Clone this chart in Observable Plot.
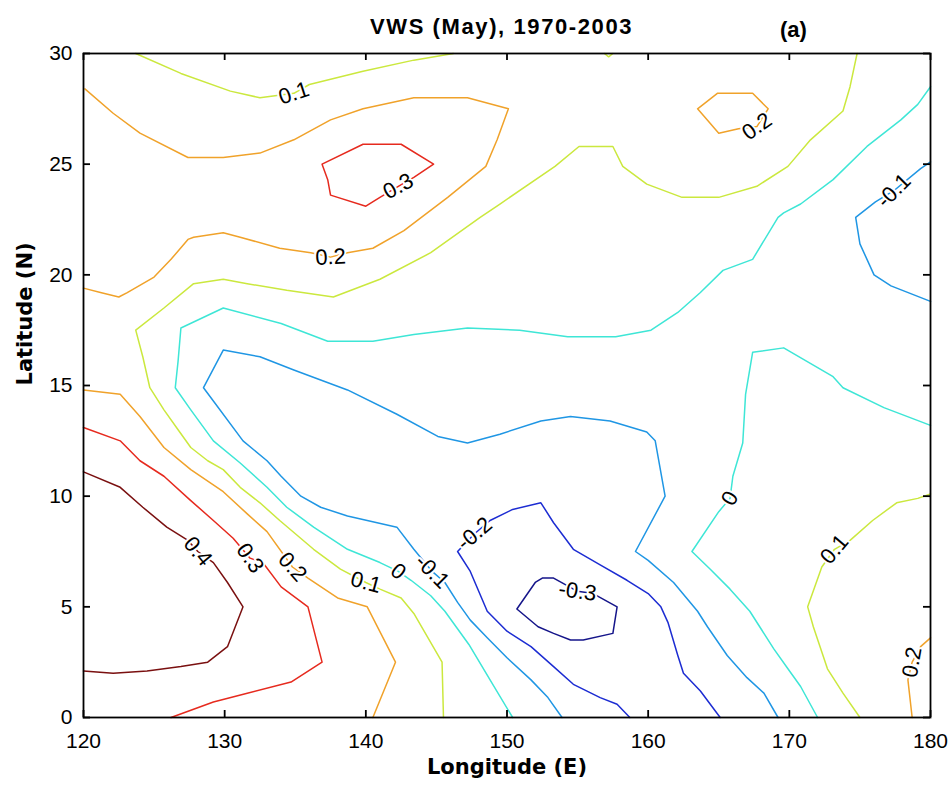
<!DOCTYPE html>
<html>
<head>
<meta charset="utf-8">
<script src="https://cdn.jsdelivr.net/npm/d3@7"></script>
<script src="https://cdn.jsdelivr.net/npm/@observablehq/plot@0.6"></script>
<style>
  body { margin: 0; background: #fff; }
  #fig { position: relative; width: 952px; height: 791px; }
  #fig svg { position: absolute; left: 0; top: 0; }
  .hdr { position: absolute; font-family: "Liberation Sans", Arial, sans-serif; font-weight: bold;
         font-size: 22px; color: #000; white-space: nowrap; z-index: 2; line-height: 1; }
  #title { left: 370px; top: 16px; letter-spacing: 1.6px; }
  #panel { left: 780px; top: 19px; }
</style>
</head>
<body>
<div id="fig">
  <div id="title" class="hdr">VWS (May), 1970-2003</div>
  <div id="panel" class="hdr">(a)</div>
</div>
<script>
// Contour levels of vertical wind shear and their line colours (jet-like)
const levels = [-0.3, -0.2, -0.1, 0, 0.1, 0.2, 0.3, 0.4];
const levelColors = ["#15158a", "#1c2cd2", "#1f96e4", "#3ee6d6", "#cbe83e", "#f0a22a", "#e62a1e", "#7a1010"];

// Axis ticks
const lonTicks = [120, 130, 140, 150, 160, 170, 180];
const latTicks = [0, 5, 10, 15, 20, 25, 30];

// Contour paths as [longitude, latitude] vertices
const cM03 = [[150.7,4.9],[152.0,6.1],[152.5,6.3],[153.3,6.3],[155.0,5.7],[156.1,5.6],[157.8,5.0],[157.5,3.8],[155.4,3.5],[154.5,3.5],[153.3,3.8],[152.2,4.1],[150.7,4.9]];

const cM02 = [[158.7,0],[157.8,0.6],[156.6,0.9],[154.7,1.5],[153.3,2.3],[151.7,3.2],[150.0,3.9],[148.6,4.8],[147.4,6.6],[146.5,7.5],[147.7,8.3],[148.8,8.9],[150.4,9.4],[152.4,9.7],[153.3,8.8],[154.7,7.6],[156.6,6.9],[158.5,6.2],[160.0,5.6],[160.9,5.0],[161.4,4.3],[162.1,2.8],[162.5,2.0],[163.7,1.2],[165.1,0]];

const cM01a = [[153.9,0],[152.9,0.9],[151.7,1.7],[150.0,2.7],[148.6,3.6],[147.4,4.4],[146.5,5.2],[145.6,6.1],[144.7,6.6],[143.4,7.6],[142.2,8.6],[138.7,9.1],[136.8,9.5],[135.4,10.0],[134.0,10.9],[133.0,11.6],[131.3,12.5],[129.2,14.3],[128.5,14.9],[129.9,16.6],[132.5,16.3],[134.9,15.7],[138.7,14.8],[142.2,13.7],[145.1,12.7],[147.2,12.4],[149.5,12.8],[152.4,13.4],[154.5,13.6],[157.3,13.4],[159.9,12.9],[160.5,12.5],[161.2,10.0],[159.1,7.5],[160.0,7.1],[161.8,6.1],[163.5,4.8],[164.2,4.1],[165.6,2.8],[167.0,1.8],[168.2,1.1],[169.2,0]];
const cM01b = [[180,25.1],[179.3,24.8],[177.4,23.8],[176.1,23.3],[174.7,22.6],[175.0,21.4],[176.0,20.0],[177.2,19.5],[180,18.8]];

const c00a = [[180,28.5],[179.1,27.7],[177.9,27.0],[175.5,25.8],[173.1,24.3],[170.8,23.2],[169.6,22.8],[169.2,22.6],[167.4,20.7],[165.3,20.2],[163.7,19.2],[162.1,18.3],[160.2,17.5],[157.7,17.2],[154.3,17.2],[150.9,17.5],[147.2,17.6],[143.4,17.3],[140.5,17.0],[137.3,17.0],[134.0,17.8],[129.9,18.5],[126.9,17.6],[126.7,16.1],[126.5,14.9],[127.6,13.9],[129.2,12.5],[131.1,11.5],[133.0,10.4],[134.4,9.5],[136.3,8.6],[138.7,7.6],[141.0,7.0],[142.3,6.6],[143.2,6.2],[144.6,5.5],[145.6,4.8],[147.3,3.3],[148.8,1.7],[150.4,0]];
const c00b = [[180,13.2],[176.7,14.0],[173.8,14.9],[173.1,15.4],[169.6,16.7],[167.4,16.5],[166.9,14.6],[166.7,12.4],[166.0,10.9],[165.8,9.9],[165.0,9.3],[163.1,7.5],[164.4,6.7],[165.8,5.8],[167.2,4.8],[168.9,3.1],[169.9,2.2],[170.8,1.4],[172.0,0]];

const c01a = [[123.7,30],[126.9,29.1],[130.4,28.3],[132.5,28.0],[134.9,28.2],[136.0,28.6],[139.8,29.2],[143.4,29.7],[146.2,30]];
const c01b = [[156.9,30],[157.2,29.85],[157.5,30]];
const c01c = [[174.8,30],[174.3,28.5],[173.8,27.4],[171.5,26.1],[169.9,24.9],[167.7,24.0],[165.0,23.5],[162.4,23.5],[159.9,24.1],[158.2,24.9],[157.5,25.8],[155.1,25.8],[153.4,24.9],[149.5,23.2],[148.1,22.6],[144.6,21.0],[141.0,19.8],[137.7,19.0],[134.4,19.3],[131.6,19.6],[129.9,19.8],[127.8,19.6],[125.7,18.5],[123.7,17.5],[124.2,16.3],[124.7,14.9],[125.7,13.9],[126.7,13.0],[127.6,12.2],[128.8,11.6],[129.9,11.2],[131.1,10.4],[132.5,9.7],[133.9,8.9],[136.3,7.6],[138.2,6.7],[140.0,6.1],[141.0,5.8],[142.5,5.4],[143.4,4.7],[145.4,2.5],[145.5,0]];
const c01d = [[180,10.1],[179.1,9.9],[177.6,9.7],[175.9,8.9],[174.3,8.0],[173.2,7.6],[172.3,6.8],[171.3,5.0],[171.7,4.1],[172.7,2.2],[173.8,1.1],[175.0,0]];

const c02a = [[120.1,28.4],[122.1,27.3],[124.0,26.4],[127.4,25.3],[129.9,25.3],[132.5,25.5],[134.9,26.1],[137.5,27.0],[139.8,27.5],[143.4,28.0],[147.2,28.0],[150.1,27.5],[149.3,26.1],[148.5,24.9],[145.8,23.5],[142.7,22.0],[140.5,21.2],[138.7,21.0],[137.5,20.8],[136.1,21.0],[133.9,21.2],[131.1,21.7],[129.9,21.9],[127.8,21.7],[127.4,21.6],[126.2,20.7],[125.0,19.9],[123.1,19.2],[122.5,19.0],[121.2,19.2],[120,19.4]];
const c02b = [[163.5,27.5],[164.9,28.2],[167.4,28.2],[168.5,27.5],[167.7,26.7],[166.4,26.6],[165.0,26.4],[163.5,27.5]];
const c02c = [[120,14.8],[122.6,14.6],[124.0,13.6],[125.7,12.2],[127.6,11.2],[129.9,10.2],[131.6,9.2],[133.0,8.4],[134.8,6.8],[135.9,6.3],[138.0,5.4],[140.1,5.0],[142.1,2.5],[140.5,0]];
const c02d = [[180,3.6],[179.3,3.2],[178.7,2.5],[178.4,1.7],[178.7,0]];

const c03a = [[136.9,25.0],[139.8,25.9],[142.5,25.9],[144.8,25.0],[143.4,24.4],[142.3,24.0],[141.0,23.5],[140.0,23.1],[137.5,23.6],[137.3,24.3],[136.9,25.0]];
const c03b = [[120,13.1],[122.6,12.5],[124.0,11.6],[125.7,10.9],[127.6,9.8],[129.2,8.9],[130.6,8.1],[131.8,7.2],[132.7,7.0],[134.0,5.9],[135.9,5.0],[136.9,2.5],[134.7,1.6],[131.6,1.1],[129.2,0.7],[126.2,0]];

const c04 = [[120,11.1],[122.6,10.4],[124.2,9.5],[125.9,8.6],[127.4,8.0],[128.1,7.5],[129.2,7.0],[130.2,6.1],[131.3,5.0],[130.2,3.2],[128.8,2.5],[126.9,2.3],[124.5,2.1],[122.1,2.0],[120,2.1]];

// Which level each path belongs to
const contours = [
  {level: -0.3, path: cM03},
  {level: -0.2, path: cM02},
  {level: -0.1, path: cM01a}, {level: -0.1, path: cM01b},
  {level: 0, path: c00a}, {level: 0, path: c00b},
  {level: 0.1, path: c01a}, {level: 0.1, path: c01b}, {level: 0.1, path: c01c}, {level: 0.1, path: c01d},
  {level: 0.2, path: c02a}, {level: 0.2, path: c02b}, {level: 0.2, path: c02c}, {level: 0.2, path: c02d},
  {level: 0.3, path: c03a}, {level: 0.3, path: c03b},
  {level: 0.4, path: c04}
];

// Inline contour labels
const labelText  = ["0.1", "0.3", "0.2", "0.2", "-0.1", "0.4", "0.3", "0.2", "0.1", "0", "-0.1", "-0.2", "-0.3", "0", "0.1", "0.2"];
const labelLon   = [134.9, 142.3, 137.5, 167.7, 177.4, 128.1, 131.8, 134.8, 140.0, 142.3, 144.7, 147.7, 155.0, 165.8, 173.2, 178.7];
const labelLat   = [28.2, 24.0, 20.8, 26.7, 23.8, 7.5, 7.2, 6.8, 6.1, 6.6, 6.6, 8.3, 5.7, 9.9, 7.6, 2.5];
const labelAngle = [-18, -28, -3, -35, -45, 50, 55, 48, 15, 40, 45, -40, 8, -60, -50, -80];

const rows = contours.flatMap((c, i) => c.path.map(([lon, lat]) => ({id: i, level: c.level, lon, lat})));
const labels = labelText.map((t, i) => ({t, lon: labelLon[i], lat: labelLat[i], a: labelAngle[i]}));

const plotH = 791 - 53 - 74, plotW = 952 - 83 - 22, tickLen = 7;

const chart = Plot.plot({
  width: 952,
  height: 791,
  marginLeft: 83, marginRight: 22, marginTop: 53, marginBottom: 74,
  x: {domain: [120, 180]},
  y: {domain: [0, 30]},
  color: {type: "ordinal", domain: levels, range: levelColors},
  style: {fontFamily: "'Liberation Sans', Arial, sans-serif", fontSize: "21px", color: "#000", background: "#fff"},
  marks: [
    Plot.line(rows, {x: "lon", y: "lat", z: "id", stroke: "level", strokeWidth: 1.5, curve: "linear"}),
    Plot.text(labels, {x: "lon", y: "lat", text: "t", rotate: "a", fontSize: 22, letterSpacing: 1.5, fill: "#000",
                       stroke: "#fff", strokeWidth: 4, fontFamily: "'Liberation Sans', Arial, sans-serif"}),
    Plot.frame({stroke: "#000", strokeWidth: 1.8}),
    // inward ticks on all four sides
    Plot.tickX(lonTicks, {x: d => d, insetTop: plotH - tickLen, stroke: "#000", strokeWidth: 1.8}),
    Plot.tickX(lonTicks, {x: d => d, insetBottom: plotH - tickLen, stroke: "#000", strokeWidth: 1.8}),
    Plot.tickY(latTicks, {y: d => d, insetRight: plotW - tickLen, stroke: "#000", strokeWidth: 1.8}),
    Plot.tickY(latTicks, {y: d => d, insetLeft: plotW - tickLen, stroke: "#000", strokeWidth: 1.8}),
    Plot.axisX(lonTicks, {anchor: "bottom", tickSize: 0, tickPadding: 16, label: null, fontSize: 21, letterSpacing: 1}),
    Plot.axisY(latTicks, {anchor: "left", tickSize: 0, tickPadding: 11, label: null, fontSize: 21, letterSpacing: 1}),
    Plot.text(["Longitude (E)"], {text: d => d, frameAnchor: "bottom", dy: 56, fontWeight: "bold",
                                  fontFamily: "'DejaVu Sans', sans-serif", fontSize: 21}),
    Plot.text(["Latitude (N)"], {text: d => d, frameAnchor: "left", dx: -58, rotate: -90, fontWeight: "bold",
                                 fontFamily: "'DejaVu Sans', sans-serif", fontSize: 21})
  ]
});

document.getElementById("fig").appendChild(chart);
</script>
</body>
</html>
